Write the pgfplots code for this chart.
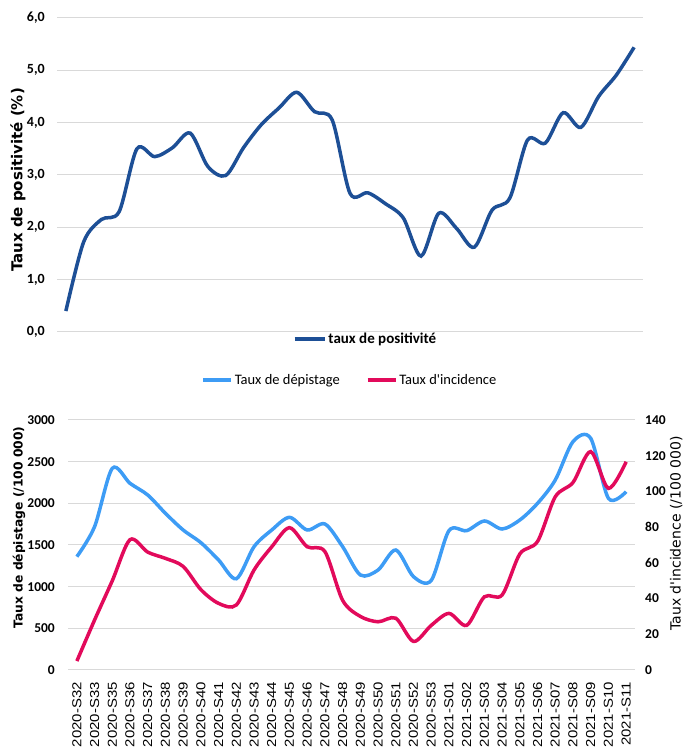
\documentclass[border=0pt]{standalone}
\usepackage{fontspec}
\setmainfont{Carlito}
\newfontfamily\dvfont{DejaVu Sans}
\newfontfamily\xfont{Liberation Sans}[FakeStretch=1.15]
\usepackage{pgfplots}
\usepackage{pgfplotstable}
\pgfplotsset{compat=1.18}
\definecolor{topblue}{HTML}{1D4F96}
\definecolor{lblue}{HTML}{3D9CF5}
\definecolor{pinkc}{HTML}{E20A5B}
\definecolor{gridc}{HTML}{D9D9D9}

\pgfplotstableread{
x y
0 0.40
1 1.72
2 2.15
3 2.30
4 3.50
5 3.35
6 3.52
7 3.80
8 3.16
9 2.99
10 3.52
11 3.96
12 4.28
13 4.58
14 4.21
15 4.05
16 2.65
17 2.66
18 2.45
19 2.18
20 1.45
21 2.27
22 1.98
23 1.62
24 2.33
25 2.56
26 3.67
27 3.61
28 4.19
29 3.91
30 4.50
31 4.91
32 5.44
}\toptab

\pgfplotstableread{
x dep inc
0 1360 5
1 1720 28
2 2420 50
3 2240 73
4 2100 66
5 1880 62.5
6 1680 58
7 1528 45
8 1320 37.3
9 1095 36.4
10 1480 56
11 1680 69
12 1832 79.7
13 1680 69
14 1752 66.3
15 1480 39
16 1140 30
17 1200 27
18 1440 29
19 1120 16
20 1075 25
21 1672 31.7
22 1672 25
23 1788 41
24 1692 42
25 1800 65
26 2000 72
27 2280 97
28 2740 105
29 2780 122.3
30 2060 101.7
31 2140 116.6
}\bottab

\begin{document}
\begin{tikzpicture}[x=1pt,y=1pt]
\path[use as bounding box] (0,0) rectangle (686,751);

% ---------- top chart ----------
\begin{axis}[
  at={(57pt,419pt)}, anchor=south west, scale only axis,
  width=586pt, height=314pt,
  xmin=-0.5, xmax=32.5, ymin=0, ymax=6,
  xtick=\empty, ytick={0,1,2,3,4,5,6},
  ymajorgrids, major grid style={gridc, line width=1pt},
  axis line style={draw=none}, major tick length=0pt,
  yticklabel={\pgfmathprintnumber[use comma,fixed,fixed zerofill,precision=1,assume math mode=true]{\tick}},
  yticklabel style={font=\fontsize{14}{14}\selectfont\bfseries, inner sep=0pt, xshift=-12pt, anchor=east},
  ylabel={Taux de positivité (\%)},
  ylabel style={font=\dvfont\bfseries\fontsize{15}{16}\selectfont, at={(axis description cs:-0.0666,0.484)}, anchor=center},
  legend style={at={(axis description cs:0.5265,-0.0223)}, anchor=center, draw=none, fill=none,
    font=\fontsize{15}{15}\selectfont\bfseries, inner sep=0pt},
  legend image code/.code={\draw[#1] (0pt,0pt) -- (30pt,0pt);},
  legend cell align=left,
]
\addplot[topblue, line width=3.5pt, smooth, tension=0.5, mark=none] table[x=x,y=y]{\toptab};
\addlegendentry{taux de positivité}
\end{axis}

% ---------- bottom chart, left axis ----------
\begin{axis}[
  at={(68pt,81pt)}, anchor=south west, scale only axis,
  width=567pt, height=250pt,
  xmin=-0.5, xmax=31.5, ymin=0, ymax=3000,
  ytick={0,500,1000,1500,2000,2500,3000},
  xtick={0,...,31},
  xticklabels={2020-S32,2020-S33,2020-S35,2020-S36,2020-S37,2020-S38,2020-S39,2020-S40,2020-S41,2020-S42,2020-S43,2020-S44,2020-S45,2020-S46,2020-S47,2020-S48,2020-S49,2020-S50,2020-S51,2020-S52,2020-S53,2021-S01,2021-S02,2021-S03,2021-S04,2021-S05,2021-S06,2021-S07,2021-S08,2021-S09,2021-S10,2021-S11},
  xticklabel style={font=\xfont\fontsize{13}{13}\selectfont, inner sep=0pt, yshift=-12pt, rotate=90, anchor=east},
  ymajorgrids, major grid style={gridc, line width=1pt},
  axis line style={draw=none}, major tick length=0pt,
  yticklabel={\pgfmathprintnumber[1000 sep={},assume math mode=true]{\tick}},
  yticklabel style={font=\fontsize{13.5}{14}\selectfont\bfseries, inner sep=0pt, xshift=-13pt, anchor=east},
  ylabel={Taux de dépistage (/100 000)},
  ylabel style={font=\dvfont\bfseries\fontsize{12.3}{13}\selectfont, at={(axis description cs:-0.0864,0.57)}, anchor=center},
  legend columns=2,
  legend style={at={(axis description cs:0.497,1.16)}, anchor=center, draw=none, fill=none,
    font=\fontsize{14.5}{15}\selectfont, inner sep=0pt,
    /tikz/every even column/.append style={column sep=24pt}},
  legend image code/.code={\draw[#1] (0pt,0pt) -- (28pt,0pt);},
]
\addplot[lblue, line width=3.5pt, smooth, tension=0.5, mark=none] table[x=x,y=dep]{\bottab};
\addlegendentry{Taux de dépistage}
\addlegendimage{pinkc, line width=3.5pt}
\addlegendentry{Taux d\textquotesingle incidence}
\end{axis}

% ---------- bottom chart, right axis ----------
\begin{axis}[
  at={(68pt,81pt)}, anchor=south west, scale only axis,
  width=567pt, height=250pt,
  xmin=-0.5, xmax=31.5, ymin=0, ymax=140,
  ytick={0,20,40,60,80,100,120,140},
  axis y line*=right, hide x axis,
  axis line style={draw=none}, major tick length=0pt,
  yticklabel={\pgfmathprintnumber[assume math mode=true]{\tick}},
  yticklabel style={font=\fontsize{13.5}{14}\selectfont\bfseries, inner sep=0pt, xshift=10pt, anchor=west},
  ylabel={Taux d\textquotesingle incidence (/100 000)},
  ylabel style={font=\dvfont\fontsize{14}{15}\selectfont, inner sep=0pt, at={(axis description cs:1.0725,0.546)}, anchor=center},
]
\addplot[pinkc, line width=3.5pt, smooth, tension=0.5, mark=none] table[x=x,y=inc]{\bottab};
\end{axis}
\end{tikzpicture}
\end{document}
